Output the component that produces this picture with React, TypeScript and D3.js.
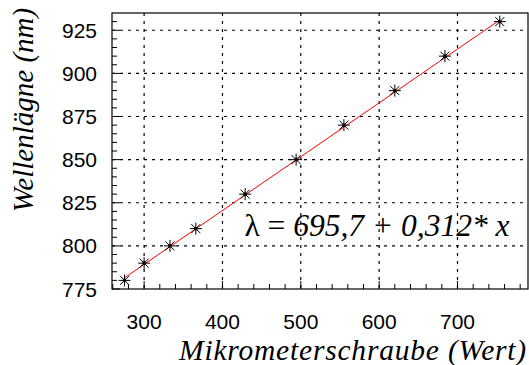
import React from 'react'
import * as d3 from 'd3';

const width = 529;
const height = 365;
const margin = { top: 13, right: 1, bottom: 76, left: 112 };
const serif = "Liberation Serif";
const sans = "Liberation Sans";

// Messwerte
const schraube = [275, 300, 333, 366, 429, 494, 555, 620, 684, 754];
const wellenlaenge = [780, 790, 800, 810, 830, 850, 870, 890, 910, 930];
const xTicks = [300, 400, 500, 600, 700];
const yTicks = [775, 800, 825, 850, 875, 900, 925];
const fitA = 695.7;
const fitB = 0.312;

function App() {
  const w = width - margin.left - margin.right;
  const h = height - margin.top - margin.bottom;
  const x = d3.scaleLinear().domain([259, 790]).range([0, w]);
  const y = d3.scaleLinear().domain([775, 935]).range([h, 0]);

  const xMinor = d3.range(260, 790, 20);
  const yMinor = d3.range(775, 935, 5);
  const xr = d3.extent(schraube) as [number, number];
  const fitLine = d3.line<number>().x((d) => x(d)).y((d) => y(fitA + fitB * d))(xr) || "";

  const s = 6;
  const star = [[-s, 0, s, 0], [0, -s, 0, s],
    [-s * 0.75, -s * 0.75, s * 0.75, s * 0.75], [-s * 0.75, s * 0.75, s * 0.75, -s * 0.75]];

  return (
    <svg width={width} height={height}
      style={{ position: "absolute", left: 0, top: 0, background: "white" }}>
      <g transform={"translate(" + margin.left + "," + margin.top + ")"}>
        {/* Gitter */}
        {xTicks.map((d) => (
          <line key={"gx" + d} x1={x(d)} x2={x(d)} y1={0} y2={h}
            stroke="black" strokeWidth={1.2} strokeDasharray="3,5" />
        ))}
        {yTicks.filter((d) => d > 775).map((d) => (
          <line key={"gy" + d} x1={0} x2={w} y1={y(d)} y2={y(d)}
            stroke="black" strokeWidth={1.2} strokeDasharray="3,5" />
        ))}
        {/* Ticks innen */}
        {xMinor.map((d) => (
          <line key={"tx" + d} x1={x(d)} x2={x(d)} y1={h} y2={h - (d % 100 === 0 ? 8 : 5)} stroke="black" />
        ))}
        {yMinor.map((d) => (
          <line key={"ty" + d} x1={0} x2={d % 25 === 0 ? 8 : 5} y1={y(d)} y2={y(d)} stroke="black" />
        ))}
        <rect width={w} height={h} fill="none" stroke="black" strokeWidth={1.2} />

        {xTicks.map((d) => (
          <text key={"lx" + d} x={x(d)} y={h + 39.5} textAnchor="middle"
            fontFamily={sans} fontSize={21}>{d}</text>
        ))}
        {yTicks.map((d) => (
          <text key={"ly" + d} x={-15} y={y(d) + 7.5} textAnchor="end"
            fontFamily={sans} fontSize={21}>{d}</text>
        ))}

        {/* Ausgleichsgerade */}
        <path d={fitLine} fill="none" stroke="red" strokeWidth={1} />

        {/* Messpunkte */}
        {schraube.map((d, i) => (
          <g key={"p" + i} transform={"translate(" + x(d) + "," + y(wellenlaenge[i]) + ")"}>
            {star.map((l, j) => (
              <line key={j} x1={l[0]} y1={l[1]} x2={l[2]} y2={l[3]} stroke="black" strokeWidth={1} />
            ))}
            <circle r={1.8} fill="black" />
          </g>
        ))}

        {/* Gleichung */}
        <text x={x(428)} y={y(805.5)} fontFamily={serif} fontSize={31.5}>
          <tspan>λ = </tspan>
          <tspan fontStyle="italic">695,7 + 0,312* x</tspan>
        </text>
      </g>

      <text x={width - 2} y={360} textAnchor="end" fontFamily={serif}
        fontStyle="italic" fontSize={29.5} letterSpacing={0.8}>Mikrometerschraube (Wert)</text>
      <text transform="translate(33,110)rotate(-90)" textAnchor="middle" fontFamily={serif}
        fontStyle="italic" fontSize={29}>Wellenlägne (nm)</text>
    </svg>
  );
}
export default App;
